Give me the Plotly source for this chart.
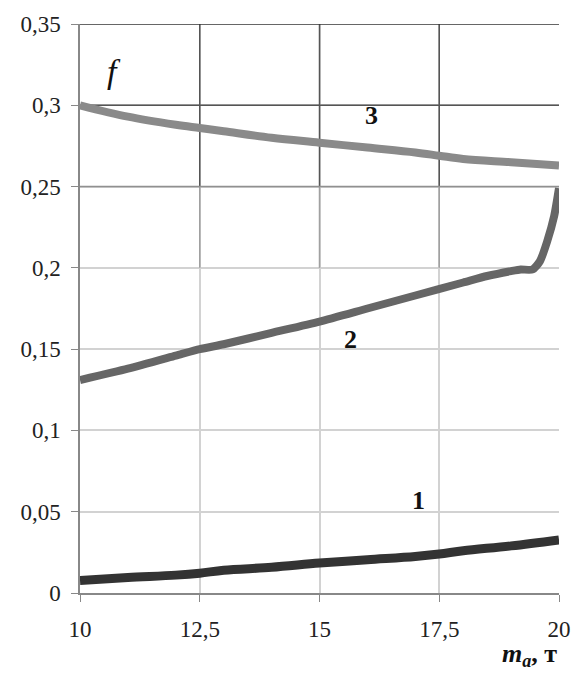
import plotly.graph_objects as go

# Curve data (f vs m_a)
x1 = [10, 11, 12, 12.5, 13, 14, 15, 16, 17, 17.5, 18, 19, 20]
y1 = [0.0077, 0.0095, 0.011, 0.0122, 0.014, 0.0158, 0.0184, 0.0205, 0.0225, 0.024, 0.026, 0.029, 0.0327]

x2 = [10, 11, 12, 12.5, 13, 14, 15, 16, 17, 18, 18.5, 19, 19.2, 19.45, 19.6, 19.75, 19.9, 20]
y2 = [0.131, 0.138, 0.146, 0.150, 0.153, 0.160, 0.167, 0.175, 0.183, 0.191, 0.195, 0.198, 0.199, 0.199, 0.204, 0.216, 0.232, 0.249]

x3 = [10, 11, 12, 12.5, 13, 14, 15, 16, 17, 17.5, 18, 19, 20]
y3 = [0.300, 0.293, 0.288, 0.286, 0.284, 0.280, 0.277, 0.274, 0.271, 0.269, 0.267, 0.265, 0.263]

xticks = [10, 12.5, 15, 17.5, 20]
xticktext = ["10", "12,5", "15", "17,5", "20"]
yticks = [0, 0.05, 0.1, 0.15, 0.2, 0.25, 0.3, 0.35]
yticktext = ["0", "0,05", "0,1", "0,15", "0,2", "0,25", "0,3", "0,35"]

labels = ["1", "2", "3"]
label_x = [17.06, 15.65, 16.08]
label_y = [0.0567, 0.156, 0.2935]

serif = "Liberation Serif"

fig = go.Figure()
fig.add_trace(go.Scatter(x=x3, y=y3, mode="lines", line=dict(color="#8a8a8a", width=8, shape="spline"), showlegend=False))
fig.add_trace(go.Scatter(x=x2, y=y2, mode="lines", line=dict(color="#666666", width=8, shape="spline", smoothing=0.6), showlegend=False))
fig.add_trace(go.Scatter(x=x1, y=y1, mode="lines", line=dict(color="#333333", width=9, shape="spline"), showlegend=False))

# darker grid in upper region (as in the scanned original)
shapes = []
for xv in xticks[1:-1]:
    shapes.append(dict(type="line", xref="x", yref="y", x0=xv, x1=xv, y0=0.2, y1=0.25,
                       line=dict(color="#a0a0a0", width=1.5), layer="between"))
    shapes.append(dict(type="line", xref="x", yref="y", x0=xv, x1=xv, y0=0.25, y1=0.35,
                       line=dict(color="#555555", width=1.5), layer="between"))
for yv, c in [(0.25, "#909090"), (0.3, "#555555"), (0.35, "#333333")]:
    shapes.append(dict(type="line", xref="x", yref="y", x0=10, x1=20, y0=yv, y1=yv,
                       line=dict(color=c, width=1.5), layer="between"))

annotations = []
for t, lx, ly in zip(labels, label_x, label_y):
    annotations.append(dict(x=lx, y=ly, xref="x", yref="y", text="<b>" + t + "</b>", showarrow=False,
                            font=dict(family=serif, size=26, color="#111111")))
annotations.append(dict(x=10.72, y=0.321, xref="x", yref="y", text="<i>f</i>", showarrow=False,
                        font=dict(family=serif, size=34, color="#111111")))
annotations.append(dict(x=1.0, y=-0.078, xref="paper", yref="paper", xanchor="right", yanchor="top",
                        text="<b><i>m</i><sub><i>a</i></sub>, т</b>", showarrow=False,
                        font=dict(family=serif, size=26, color="#111111")))

fig.update_layout(
    width=583, height=674,
    margin=dict(l=80, r=14, t=21, b=81),
    plot_bgcolor="white", paper_bgcolor="white",
    shapes=shapes, annotations=annotations,
    font=dict(family=serif, size=23, color="#222222"),
)
fig.update_xaxes(range=[10, 20], tickvals=xticks, ticktext=xticktext,
                 tickfont=dict(family=serif, size=23, color="#222222"),
                 showgrid=True, gridcolor="#d2d2d2", gridwidth=1.5,
                 showline=True, linecolor="#888888", linewidth=1.5,
                 ticks="outside", ticklen=7, tickcolor="#888888", ticklabelstandoff=8,
                 zeroline=False)
fig.update_yaxes(range=[0, 0.35], tickvals=yticks, ticktext=yticktext,
                 tickfont=dict(family=serif, size=23, color="#222222"),
                 showgrid=True, gridcolor="#d2d2d2", gridwidth=1.5,
                 showline=True, linecolor="#888888", linewidth=1.5,
                 ticks="outside", ticklen=7, tickcolor="#888888", ticklabelstandoff=6,
                 zeroline=False)

fig.write_html("out.html")
